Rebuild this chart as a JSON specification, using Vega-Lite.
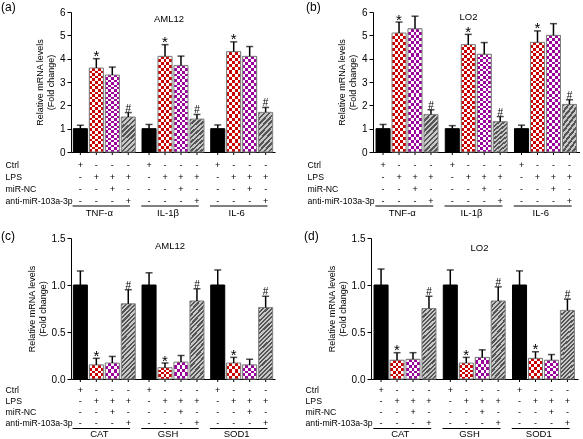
{
"$schema":"https://vega.github.io/schema/vega-lite/v6.json",
"background":"white",
"padding":{"left":1,"top":1,"right":0,"bottom":0},
"spacing":12,
"config":{
 "font":"Liberation Sans",
 "view":{"stroke":null},
 "axis":{"grid":false,"domainColor":"black","tickColor":"black","labelColor":"black","titleColor":"black"}
},
"datasets":{
 "signs":[
  {"t":"Ctrl","Ctrl":"+","LPS":"-","miR-NC":"-","anti-miR-103a-3p":"-"},
  {"t":"LPS","Ctrl":"-","LPS":"+","miR-NC":"-","anti-miR-103a-3p":"-"},
  {"t":"NC","Ctrl":"-","LPS":"+","miR-NC":"+","anti-miR-103a-3p":"-"},
  {"t":"anti","Ctrl":"-","LPS":"+","miR-NC":"-","anti-miR-103a-3p":"+"}
 ],
 "a":[
  {"g":"TNF-α","t":"Ctrl","v":1.0,"hi":1.15,"s":""},
  {"g":"TNF-α","t":"LPS","v":3.6,"hi":4.0,"s":"*"},
  {"g":"TNF-α","t":"NC","v":3.3,"hi":3.64,"s":""},
  {"g":"TNF-α","t":"anti","v":1.5,"hi":1.69,"s":"#"},
  {"g":"IL-1β","t":"Ctrl","v":1.0,"hi":1.18,"s":""},
  {"g":"IL-1β","t":"LPS","v":4.1,"hi":4.6,"s":"*"},
  {"g":"IL-1β","t":"NC","v":3.7,"hi":4.11,"s":""},
  {"g":"IL-1β","t":"anti","v":1.41,"hi":1.61,"s":"#"},
  {"g":"IL-6","t":"Ctrl","v":1.0,"hi":1.16,"s":""},
  {"g":"IL-6","t":"LPS","v":4.3,"hi":4.72,"s":"*"},
  {"g":"IL-6","t":"NC","v":4.1,"hi":4.52,"s":""},
  {"g":"IL-6","t":"anti","v":1.7,"hi":1.91,"s":"#"}
 ],
 "b":[
  {"g":"TNF-α","t":"Ctrl","v":1.0,"hi":1.18,"s":""},
  {"g":"TNF-α","t":"LPS","v":5.1,"hi":5.57,"s":"*"},
  {"g":"TNF-α","t":"NC","v":5.28,"hi":5.82,"s":""},
  {"g":"TNF-α","t":"anti","v":1.61,"hi":1.81,"s":"#"},
  {"g":"IL-1β","t":"Ctrl","v":1.0,"hi":1.13,"s":""},
  {"g":"IL-1β","t":"LPS","v":4.6,"hi":5.04,"s":"*"},
  {"g":"IL-1β","t":"NC","v":4.19,"hi":4.69,"s":""},
  {"g":"IL-1β","t":"anti","v":1.3,"hi":1.52,"s":"#"},
  {"g":"IL-6","t":"Ctrl","v":1.0,"hi":1.15,"s":""},
  {"g":"IL-6","t":"LPS","v":4.7,"hi":5.19,"s":"*"},
  {"g":"IL-6","t":"NC","v":5.0,"hi":5.5,"s":""},
  {"g":"IL-6","t":"anti","v":2.04,"hi":2.24,"s":"#"}
 ],
 "c":[
  {"g":"CAT","t":"Ctrl","v":1.0,"hi":1.15,"s":""},
  {"g":"CAT","t":"LPS","v":0.15,"hi":0.22,"s":"*"},
  {"g":"CAT","t":"NC","v":0.17,"hi":0.24,"s":""},
  {"g":"CAT","t":"anti","v":0.8,"hi":0.95,"s":"#"},
  {"g":"GSH","t":"Ctrl","v":1.0,"hi":1.13,"s":""},
  {"g":"GSH","t":"LPS","v":0.12,"hi":0.17,"s":"*"},
  {"g":"GSH","t":"NC","v":0.18,"hi":0.25,"s":""},
  {"g":"GSH","t":"anti","v":0.83,"hi":0.96,"s":"#"},
  {"g":"SOD1","t":"Ctrl","v":1.0,"hi":1.16,"s":""},
  {"g":"SOD1","t":"LPS","v":0.17,"hi":0.23,"s":"*"},
  {"g":"SOD1","t":"NC","v":0.15,"hi":0.21,"s":""},
  {"g":"SOD1","t":"anti","v":0.76,"hi":0.88,"s":"#"}
 ],
 "d":[
  {"g":"CAT","t":"Ctrl","v":1.0,"hi":1.17,"s":""},
  {"g":"CAT","t":"LPS","v":0.2,"hi":0.28,"s":"*"},
  {"g":"CAT","t":"NC","v":0.21,"hi":0.28,"s":""},
  {"g":"CAT","t":"anti","v":0.75,"hi":0.88,"s":"#"},
  {"g":"GSH","t":"Ctrl","v":1.0,"hi":1.16,"s":""},
  {"g":"GSH","t":"LPS","v":0.17,"hi":0.23,"s":"*"},
  {"g":"GSH","t":"NC","v":0.23,"hi":0.31,"s":""},
  {"g":"GSH","t":"anti","v":0.83,"hi":0.98,"s":"#"},
  {"g":"SOD1","t":"Ctrl","v":1.0,"hi":1.15,"s":""},
  {"g":"SOD1","t":"LPS","v":0.22,"hi":0.29,"s":"*"},
  {"g":"SOD1","t":"NC","v":0.2,"hi":0.26,"s":""},
  {"g":"SOD1","t":"anti","v":0.73,"hi":0.85,"s":"#"}
 ]
},
"vconcat":[
{"hconcat":[
 {
  "title":{"text":"(a)","anchor":"start","frame":"bounds","fontSize":12,"fontWeight":"normal","offset":-7,"dx":-4},
  "spacing":2,
  "vconcat":[
   {
    "width":204,"height":140,
    "title":{"text":"AML12","fontSize":9.5,"fontWeight":"normal","offset":-16,"dx":-4},
    "data":{"name":"a"},
    "encoding":{
     "x":{"field":"g","type":"nominal","sort":["TNF-α","IL-1β","IL-6"],"scale":{"paddingInner":0.07,"paddingOuter":0.02},"axis":{"labels":false,"ticks":false,"title":null}},
     "xOffset":{"field":"t","type":"nominal","sort":["Ctrl","LPS","NC","anti"],"scale":{"paddingInner":0.12,"paddingOuter":0.06}},
     "y":{"field":"v","type":"quantitative","scale":{"domain":[0,6],"nice":false},"axis":{"values":[0,1,2,3,4,5,6],"title":["Relative mRNA levels","(Fold change)"],"titleFontSize":9,"titleFontWeight":"normal","titlePadding":4,"titleLineHeight":11,"tickSize":4,"labelFontSize":10,"labelPadding":2}}
    },
    "layer":[
     {"mark":{"type":"rule","y2Offset":3,"color":"black","strokeWidth":1},"encoding":{"y":{"datum":0,"type":"quantitative"},"y2":{"datum":0}}},
     {"transform":[{"filter":"datum.t=='Ctrl'"}],"mark":{"type":"bar","fill":"black","stroke":"black","strokeWidth":1}},
     {"transform":[{"filter":"datum.t=='LPS'||datum.t=='NC'"}],"mark":{"type":"bar","fill":{"gradient":"linear","x1":0,"y1":0,"x2":1,"y2":0,"stops":[{"offset":0,"color":"#000"},{"offset":0.2,"color":"#000"},{"offset":0.2,"color":"#fff"},{"offset":0.4,"color":"#fff"},{"offset":0.4,"color":"#000"},{"offset":0.6,"color":"#000"},{"offset":0.6,"color":"#fff"},{"offset":0.8,"color":"#fff"},{"offset":0.8,"color":"#000"},{"offset":1,"color":"#000"}]}}},
     {"transform":[{"filter":"datum.t=='LPS'||datum.t=='NC'"}],"mark":{"type":"bar","blend":"difference","fill":{"gradient":"linear","x1":0,"y1":0,"x2":0,"y2":1,"stops":[{"offset":0,"color":"#fff"},{"offset":0.03125,"color":"#fff"},{"offset":0.03125,"color":"#000"},{"offset":0.0625,"color":"#000"},{"offset":0.0625,"color":"#fff"},{"offset":0.09375,"color":"#fff"},{"offset":0.09375,"color":"#000"},{"offset":0.125,"color":"#000"},{"offset":0.125,"color":"#fff"},{"offset":0.15625,"color":"#fff"},{"offset":0.15625,"color":"#000"},{"offset":0.1875,"color":"#000"},{"offset":0.1875,"color":"#fff"},{"offset":0.21875,"color":"#fff"},{"offset":0.21875,"color":"#000"},{"offset":0.25,"color":"#000"},{"offset":0.25,"color":"#fff"},{"offset":0.28125,"color":"#fff"},{"offset":0.28125,"color":"#000"},{"offset":0.3125,"color":"#000"},{"offset":0.3125,"color":"#fff"},{"offset":0.34375,"color":"#fff"},{"offset":0.34375,"color":"#000"},{"offset":0.375,"color":"#000"},{"offset":0.375,"color":"#fff"},{"offset":0.40625,"color":"#fff"},{"offset":0.40625,"color":"#000"},{"offset":0.4375,"color":"#000"},{"offset":0.4375,"color":"#fff"},{"offset":0.46875,"color":"#fff"},{"offset":0.46875,"color":"#000"},{"offset":0.5,"color":"#000"},{"offset":0.5,"color":"#fff"},{"offset":0.53125,"color":"#fff"},{"offset":0.53125,"color":"#000"},{"offset":0.5625,"color":"#000"},{"offset":0.5625,"color":"#fff"},{"offset":0.59375,"color":"#fff"},{"offset":0.59375,"color":"#000"},{"offset":0.625,"color":"#000"},{"offset":0.625,"color":"#fff"},{"offset":0.65625,"color":"#fff"},{"offset":0.65625,"color":"#000"},{"offset":0.6875,"color":"#000"},{"offset":0.6875,"color":"#fff"},{"offset":0.71875,"color":"#fff"},{"offset":0.71875,"color":"#000"},{"offset":0.75,"color":"#000"},{"offset":0.75,"color":"#fff"},{"offset":0.78125,"color":"#fff"},{"offset":0.78125,"color":"#000"},{"offset":0.8125,"color":"#000"},{"offset":0.8125,"color":"#fff"},{"offset":0.84375,"color":"#fff"},{"offset":0.84375,"color":"#000"},{"offset":0.875,"color":"#000"},{"offset":0.875,"color":"#fff"},{"offset":0.90625,"color":"#fff"},{"offset":0.90625,"color":"#000"},{"offset":0.9375,"color":"#000"},{"offset":0.9375,"color":"#fff"},{"offset":0.96875,"color":"#fff"},{"offset":0.96875,"color":"#000"},{"offset":1,"color":"#000"}]}}},
     {"transform":[{"filter":"datum.t=='LPS'||datum.t=='NC'"}],"mark":{"type":"bar","blend":"lighten"},"encoding":{"color":{"field":"t","type":"nominal","scale":{"domain":["LPS","NC"],"range":["#c80000","#9a009a"]},"legend":null}}},
     {"transform":[{"filter":"datum.t=='anti'"}],"mark":{"type":"bar","fill":{"gradient":"linear","x1":0,"y1":0,"x2":0.46,"y2":1.2,"stops":[{"offset":0,"color":"#555"},{"offset":0.05,"color":"#555"},{"offset":0.05,"color":"#c8c8c8"},{"offset":0.1,"color":"#c8c8c8"},{"offset":0.1,"color":"#555"},{"offset":0.15,"color":"#555"},{"offset":0.15,"color":"#c8c8c8"},{"offset":0.2,"color":"#c8c8c8"},{"offset":0.2,"color":"#555"},{"offset":0.25,"color":"#555"},{"offset":0.25,"color":"#c8c8c8"},{"offset":0.3,"color":"#c8c8c8"},{"offset":0.3,"color":"#555"},{"offset":0.35,"color":"#555"},{"offset":0.35,"color":"#c8c8c8"},{"offset":0.4,"color":"#c8c8c8"},{"offset":0.4,"color":"#555"},{"offset":0.45,"color":"#555"},{"offset":0.45,"color":"#c8c8c8"},{"offset":0.5,"color":"#c8c8c8"},{"offset":0.5,"color":"#555"},{"offset":0.55,"color":"#555"},{"offset":0.55,"color":"#c8c8c8"},{"offset":0.6,"color":"#c8c8c8"},{"offset":0.6,"color":"#555"},{"offset":0.65,"color":"#555"},{"offset":0.65,"color":"#c8c8c8"},{"offset":0.7,"color":"#c8c8c8"},{"offset":0.7,"color":"#555"},{"offset":0.75,"color":"#555"},{"offset":0.75,"color":"#c8c8c8"},{"offset":0.8,"color":"#c8c8c8"},{"offset":0.8,"color":"#555"},{"offset":0.85,"color":"#555"},{"offset":0.85,"color":"#c8c8c8"},{"offset":0.9,"color":"#c8c8c8"},{"offset":0.9,"color":"#555"},{"offset":0.95,"color":"#555"},{"offset":0.95,"color":"#c8c8c8"},{"offset":1,"color":"#c8c8c8"}]}}},
     {"transform":[{"filter":"datum.t!='Ctrl'"}],"mark":{"type":"bar","filled":false,"stroke":"#808080","strokeWidth":1}},
     {"mark":{"type":"rule","color":"black","strokeWidth":1.5},"encoding":{"y2":{"field":"hi"}}},
     {"mark":{"type":"tick","color":"black","thickness":1.5,"size":7},"encoding":{"y":{"field":"hi","type":"quantitative"}}},
     {"transform":[{"filter":"datum.s=='*'"}],"mark":{"type":"text","fontSize":15,"baseline":"alphabetic","dy":2.5,"color":"black"},"encoding":{"y":{"field":"hi","type":"quantitative"},"text":{"field":"s"}}},
     {"transform":[{"filter":"datum.s=='#'"}],"mark":{"type":"text","fontSize":10,"baseline":"alphabetic","dy":-1,"color":"black"},"encoding":{"y":{"field":"hi","type":"quantitative"},"text":{"field":"s"}}}
    ]
   },
   {
    "width":204,"height":48,
    "data":{"name":"a"},
    "transform":[{"lookup":"t","from":{"data":{"name":"signs"},"key":"t","fields":["Ctrl","LPS","miR-NC","anti-miR-103a-3p"]}},{"fold":["Ctrl","LPS","miR-NC","anti-miR-103a-3p"],"as":["row","sign"]}],
    "layer":[
     {"mark":{"type":"text","fontSize":9,"color":"black"},"encoding":{
      "x":{"field":"g","type":"nominal","sort":["TNF-α","IL-1β","IL-6"],"scale":{"paddingInner":0.07,"paddingOuter":0.02},"axis":{"title":null,"domain":false,"ticks":false,"labelAngle":0,"labelPadding":0,"labelOffset":-5,"labelFontSize":9.5}},
      "xOffset":{"field":"t","type":"nominal","sort":["Ctrl","LPS","NC","anti"],"scale":{"paddingInner":0.12,"paddingOuter":0.06}},
      "y":{"field":"row","type":"nominal","sort":["Ctrl","LPS","miR-NC","anti-miR-103a-3p"],"scale":{"paddingInner":0,"paddingOuter":0},"axis":{"title":null,"domain":false,"ticks":false,"labelAlign":"left","labelPadding":66,"labelFontSize":8.7}},
      "text":{"field":"sign"}}},
     {"transform":[{"filter":"datum.row=='anti-miR-103a-3p'&&datum.t=='Ctrl'"}],"mark":{"type":"rect","height":1,"yOffset":5,"color":"black","width":{"band":0.9},"xOffset":-3},"encoding":{
      "x":{"field":"g","type":"nominal","sort":["TNF-α","IL-1β","IL-6"]},
      "y":{"field":"row","type":"nominal","sort":["Ctrl","LPS","miR-NC","anti-miR-103a-3p"]}}}
    ]
   }
  ]
 },
 {
  "title":{"text":"(b)","anchor":"start","frame":"bounds","fontSize":12,"fontWeight":"normal","offset":-7,"dx":-1},
  "spacing":2,
  "vconcat":[
   {
    "width":207,"height":140,
    "title":{"text":"LO2","fontSize":9.5,"fontWeight":"normal","offset":-14,"dx":-8},
    "data":{"name":"b"},
    "encoding":{
     "x":{"field":"g","type":"nominal","sort":["TNF-α","IL-1β","IL-6"],"scale":{"paddingInner":0.07,"paddingOuter":0.03},"axis":{"labels":false,"ticks":false,"title":null}},
     "xOffset":{"field":"t","type":"nominal","sort":["Ctrl","LPS","NC","anti"],"scale":{"paddingInner":0.12,"paddingOuter":0.06}},
     "y":{"field":"v","type":"quantitative","scale":{"domain":[0,6],"nice":false},"axis":{"values":[0,1,2,3,4,5,6],"title":["Relative mRNA levels","(Fold change)"],"titleFontSize":9,"titleFontWeight":"normal","titlePadding":4,"titleLineHeight":11,"tickSize":4,"labelFontSize":10,"labelPadding":2}}
    },
    "layer":[
     {"mark":{"type":"rule","y2Offset":3,"color":"black","strokeWidth":1},"encoding":{"y":{"datum":0,"type":"quantitative"},"y2":{"datum":0}}},
     {"transform":[{"filter":"datum.t=='Ctrl'"}],"mark":{"type":"bar","fill":"black","stroke":"black","strokeWidth":1}},
     {"transform":[{"filter":"datum.t=='LPS'||datum.t=='NC'"}],"mark":{"type":"bar","fill":{"gradient":"linear","x1":0,"y1":0,"x2":1,"y2":0,"stops":[{"offset":0,"color":"#000"},{"offset":0.2,"color":"#000"},{"offset":0.2,"color":"#fff"},{"offset":0.4,"color":"#fff"},{"offset":0.4,"color":"#000"},{"offset":0.6,"color":"#000"},{"offset":0.6,"color":"#fff"},{"offset":0.8,"color":"#fff"},{"offset":0.8,"color":"#000"},{"offset":1,"color":"#000"}]}}},
     {"transform":[{"filter":"datum.t=='LPS'||datum.t=='NC'"}],"mark":{"type":"bar","blend":"difference","fill":{"gradient":"linear","x1":0,"y1":0,"x2":0,"y2":1,"stops":[{"offset":0,"color":"#fff"},{"offset":0.025,"color":"#fff"},{"offset":0.025,"color":"#000"},{"offset":0.05,"color":"#000"},{"offset":0.05,"color":"#fff"},{"offset":0.075,"color":"#fff"},{"offset":0.075,"color":"#000"},{"offset":0.1,"color":"#000"},{"offset":0.1,"color":"#fff"},{"offset":0.125,"color":"#fff"},{"offset":0.125,"color":"#000"},{"offset":0.15,"color":"#000"},{"offset":0.15,"color":"#fff"},{"offset":0.175,"color":"#fff"},{"offset":0.175,"color":"#000"},{"offset":0.2,"color":"#000"},{"offset":0.2,"color":"#fff"},{"offset":0.225,"color":"#fff"},{"offset":0.225,"color":"#000"},{"offset":0.25,"color":"#000"},{"offset":0.25,"color":"#fff"},{"offset":0.275,"color":"#fff"},{"offset":0.275,"color":"#000"},{"offset":0.3,"color":"#000"},{"offset":0.3,"color":"#fff"},{"offset":0.325,"color":"#fff"},{"offset":0.325,"color":"#000"},{"offset":0.35,"color":"#000"},{"offset":0.35,"color":"#fff"},{"offset":0.375,"color":"#fff"},{"offset":0.375,"color":"#000"},{"offset":0.4,"color":"#000"},{"offset":0.4,"color":"#fff"},{"offset":0.425,"color":"#fff"},{"offset":0.425,"color":"#000"},{"offset":0.45,"color":"#000"},{"offset":0.45,"color":"#fff"},{"offset":0.475,"color":"#fff"},{"offset":0.475,"color":"#000"},{"offset":0.5,"color":"#000"},{"offset":0.5,"color":"#fff"},{"offset":0.525,"color":"#fff"},{"offset":0.525,"color":"#000"},{"offset":0.55,"color":"#000"},{"offset":0.55,"color":"#fff"},{"offset":0.575,"color":"#fff"},{"offset":0.575,"color":"#000"},{"offset":0.6,"color":"#000"},{"offset":0.6,"color":"#fff"},{"offset":0.625,"color":"#fff"},{"offset":0.625,"color":"#000"},{"offset":0.65,"color":"#000"},{"offset":0.65,"color":"#fff"},{"offset":0.675,"color":"#fff"},{"offset":0.675,"color":"#000"},{"offset":0.7,"color":"#000"},{"offset":0.7,"color":"#fff"},{"offset":0.725,"color":"#fff"},{"offset":0.725,"color":"#000"},{"offset":0.75,"color":"#000"},{"offset":0.75,"color":"#fff"},{"offset":0.775,"color":"#fff"},{"offset":0.775,"color":"#000"},{"offset":0.8,"color":"#000"},{"offset":0.8,"color":"#fff"},{"offset":0.825,"color":"#fff"},{"offset":0.825,"color":"#000"},{"offset":0.85,"color":"#000"},{"offset":0.85,"color":"#fff"},{"offset":0.875,"color":"#fff"},{"offset":0.875,"color":"#000"},{"offset":0.9,"color":"#000"},{"offset":0.9,"color":"#fff"},{"offset":0.925,"color":"#fff"},{"offset":0.925,"color":"#000"},{"offset":0.95,"color":"#000"},{"offset":0.95,"color":"#fff"},{"offset":0.975,"color":"#fff"},{"offset":0.975,"color":"#000"},{"offset":1,"color":"#000"}]}}},
     {"transform":[{"filter":"datum.t=='LPS'||datum.t=='NC'"}],"mark":{"type":"bar","blend":"lighten"},"encoding":{"color":{"field":"t","type":"nominal","scale":{"domain":["LPS","NC"],"range":["#c80000","#9a009a"]},"legend":null}}},
     {"transform":[{"filter":"datum.t=='anti'"}],"mark":{"type":"bar","fill":{"gradient":"linear","x1":0,"y1":0,"x2":0.46,"y2":1.2,"stops":[{"offset":0,"color":"#555"},{"offset":0.05,"color":"#555"},{"offset":0.05,"color":"#c8c8c8"},{"offset":0.1,"color":"#c8c8c8"},{"offset":0.1,"color":"#555"},{"offset":0.15,"color":"#555"},{"offset":0.15,"color":"#c8c8c8"},{"offset":0.2,"color":"#c8c8c8"},{"offset":0.2,"color":"#555"},{"offset":0.25,"color":"#555"},{"offset":0.25,"color":"#c8c8c8"},{"offset":0.3,"color":"#c8c8c8"},{"offset":0.3,"color":"#555"},{"offset":0.35,"color":"#555"},{"offset":0.35,"color":"#c8c8c8"},{"offset":0.4,"color":"#c8c8c8"},{"offset":0.4,"color":"#555"},{"offset":0.45,"color":"#555"},{"offset":0.45,"color":"#c8c8c8"},{"offset":0.5,"color":"#c8c8c8"},{"offset":0.5,"color":"#555"},{"offset":0.55,"color":"#555"},{"offset":0.55,"color":"#c8c8c8"},{"offset":0.6,"color":"#c8c8c8"},{"offset":0.6,"color":"#555"},{"offset":0.65,"color":"#555"},{"offset":0.65,"color":"#c8c8c8"},{"offset":0.7,"color":"#c8c8c8"},{"offset":0.7,"color":"#555"},{"offset":0.75,"color":"#555"},{"offset":0.75,"color":"#c8c8c8"},{"offset":0.8,"color":"#c8c8c8"},{"offset":0.8,"color":"#555"},{"offset":0.85,"color":"#555"},{"offset":0.85,"color":"#c8c8c8"},{"offset":0.9,"color":"#c8c8c8"},{"offset":0.9,"color":"#555"},{"offset":0.95,"color":"#555"},{"offset":0.95,"color":"#c8c8c8"},{"offset":1,"color":"#c8c8c8"}]}}},
     {"transform":[{"filter":"datum.t!='Ctrl'"}],"mark":{"type":"bar","filled":false,"stroke":"#808080","strokeWidth":1}},
     {"mark":{"type":"rule","color":"black","strokeWidth":1.5},"encoding":{"y2":{"field":"hi"}}},
     {"mark":{"type":"tick","color":"black","thickness":1.5,"size":7},"encoding":{"y":{"field":"hi","type":"quantitative"}}},
     {"transform":[{"filter":"datum.s=='*'"}],"mark":{"type":"text","fontSize":15,"baseline":"alphabetic","dy":2.5,"color":"black"},"encoding":{"y":{"field":"hi","type":"quantitative"},"text":{"field":"s"}}},
     {"transform":[{"filter":"datum.s=='#'"}],"mark":{"type":"text","fontSize":10,"baseline":"alphabetic","dy":-1,"color":"black"},"encoding":{"y":{"field":"hi","type":"quantitative"},"text":{"field":"s"}}}
    ]
   },
   {
    "width":207,"height":48,
    "data":{"name":"b"},
    "transform":[{"lookup":"t","from":{"data":{"name":"signs"},"key":"t","fields":["Ctrl","LPS","miR-NC","anti-miR-103a-3p"]}},{"fold":["Ctrl","LPS","miR-NC","anti-miR-103a-3p"],"as":["row","sign"]}],
    "layer":[
     {"mark":{"type":"text","fontSize":9,"color":"black"},"encoding":{
      "x":{"field":"g","type":"nominal","sort":["TNF-α","IL-1β","IL-6"],"scale":{"paddingInner":0.07,"paddingOuter":0.03},"axis":{"title":null,"domain":false,"ticks":false,"labelAngle":0,"labelPadding":0,"labelOffset":-5,"labelFontSize":9.5}},
      "xOffset":{"field":"t","type":"nominal","sort":["Ctrl","LPS","NC","anti"],"scale":{"paddingInner":0.12,"paddingOuter":0.06}},
      "y":{"field":"row","type":"nominal","sort":["Ctrl","LPS","miR-NC","anti-miR-103a-3p"],"scale":{"paddingInner":0,"paddingOuter":0},"axis":{"title":null,"domain":false,"ticks":false,"labelAlign":"left","labelPadding":66,"labelFontSize":8.7}},
      "text":{"field":"sign"}}},
     {"transform":[{"filter":"datum.row=='anti-miR-103a-3p'&&datum.t=='Ctrl'"}],"mark":{"type":"rect","height":1,"yOffset":5,"color":"black","width":{"band":0.9},"xOffset":-3},"encoding":{
      "x":{"field":"g","type":"nominal","sort":["TNF-α","IL-1β","IL-6"]},
      "y":{"field":"row","type":"nominal","sort":["Ctrl","LPS","miR-NC","anti-miR-103a-3p"]}}}
    ]
   }
  ]
 }
],"spacing":31},
{"hconcat":[
 {
  "title":{"text":"(c)","anchor":"start","frame":"bounds","fontSize":12,"fontWeight":"normal","offset":-9.5,"dx":-4},
  "spacing":0,
  "vconcat":[
   {
    "width":204,"height":141,
    "title":{"text":"AML12","fontSize":9.5,"fontWeight":"normal","offset":-17,"dx":-3},
    "data":{"name":"c"},
    "encoding":{
     "x":{"field":"g","type":"nominal","sort":["CAT","GSH","SOD1"],"scale":{"paddingInner":0.07,"paddingOuter":0.02},"axis":{"labels":false,"ticks":false,"title":null}},
     "xOffset":{"field":"t","type":"nominal","sort":["Ctrl","LPS","NC","anti"],"scale":{"paddingInner":0.12,"paddingOuter":0.06}},
     "y":{"field":"v","type":"quantitative","scale":{"domain":[0,1.5],"nice":false},"axis":{"values":[0,0.5,1,1.5],"format":".1f","title":["Relative mRNA levels","(Fold change)"],"titleFontSize":9,"titleFontWeight":"normal","titlePadding":4,"titleLineHeight":11,"tickSize":4,"labelFontSize":10,"labelPadding":2}}
    },
    "layer":[
     {"mark":{"type":"rule","y2Offset":3,"color":"black","strokeWidth":1},"encoding":{"y":{"datum":0,"type":"quantitative"},"y2":{"datum":0}}},
     {"transform":[{"filter":"datum.t=='Ctrl'"}],"mark":{"type":"bar","fill":"black","stroke":"black","strokeWidth":1}},
     {"transform":[{"filter":"datum.t=='LPS'||datum.t=='NC'"}],"mark":{"type":"bar","fill":{"gradient":"linear","x1":0,"y1":0,"x2":1,"y2":0,"stops":[{"offset":0,"color":"#000"},{"offset":0.2,"color":"#000"},{"offset":0.2,"color":"#fff"},{"offset":0.4,"color":"#fff"},{"offset":0.4,"color":"#000"},{"offset":0.6,"color":"#000"},{"offset":0.6,"color":"#fff"},{"offset":0.8,"color":"#fff"},{"offset":0.8,"color":"#000"},{"offset":1,"color":"#000"}]}}},
     {"transform":[{"filter":"datum.t=='LPS'||datum.t=='NC'"}],"mark":{"type":"bar","blend":"difference","fill":{"gradient":"linear","x1":0,"y1":0,"x2":0,"y2":1,"stops":[{"offset":0,"color":"#fff"},{"offset":0.2,"color":"#fff"},{"offset":0.2,"color":"#000"},{"offset":0.4,"color":"#000"},{"offset":0.4,"color":"#fff"},{"offset":0.6,"color":"#fff"},{"offset":0.6,"color":"#000"},{"offset":0.8,"color":"#000"},{"offset":0.8,"color":"#fff"},{"offset":1,"color":"#fff"}]}}},
     {"transform":[{"filter":"datum.t=='LPS'||datum.t=='NC'"}],"mark":{"type":"bar","blend":"lighten"},"encoding":{"color":{"field":"t","type":"nominal","scale":{"domain":["LPS","NC"],"range":["#c80000","#9a009a"]},"legend":null}}},
     {"transform":[{"filter":"datum.t=='anti'"}],"mark":{"type":"bar","fill":{"gradient":"linear","x1":0,"y1":0,"x2":0.22,"y2":1.15,"stops":[{"offset":0,"color":"#555"},{"offset":0.025,"color":"#555"},{"offset":0.025,"color":"#c8c8c8"},{"offset":0.05,"color":"#c8c8c8"},{"offset":0.05,"color":"#555"},{"offset":0.075,"color":"#555"},{"offset":0.075,"color":"#c8c8c8"},{"offset":0.1,"color":"#c8c8c8"},{"offset":0.1,"color":"#555"},{"offset":0.125,"color":"#555"},{"offset":0.125,"color":"#c8c8c8"},{"offset":0.15,"color":"#c8c8c8"},{"offset":0.15,"color":"#555"},{"offset":0.175,"color":"#555"},{"offset":0.175,"color":"#c8c8c8"},{"offset":0.2,"color":"#c8c8c8"},{"offset":0.2,"color":"#555"},{"offset":0.225,"color":"#555"},{"offset":0.225,"color":"#c8c8c8"},{"offset":0.25,"color":"#c8c8c8"},{"offset":0.25,"color":"#555"},{"offset":0.275,"color":"#555"},{"offset":0.275,"color":"#c8c8c8"},{"offset":0.3,"color":"#c8c8c8"},{"offset":0.3,"color":"#555"},{"offset":0.325,"color":"#555"},{"offset":0.325,"color":"#c8c8c8"},{"offset":0.35,"color":"#c8c8c8"},{"offset":0.35,"color":"#555"},{"offset":0.375,"color":"#555"},{"offset":0.375,"color":"#c8c8c8"},{"offset":0.4,"color":"#c8c8c8"},{"offset":0.4,"color":"#555"},{"offset":0.425,"color":"#555"},{"offset":0.425,"color":"#c8c8c8"},{"offset":0.45,"color":"#c8c8c8"},{"offset":0.45,"color":"#555"},{"offset":0.475,"color":"#555"},{"offset":0.475,"color":"#c8c8c8"},{"offset":0.5,"color":"#c8c8c8"},{"offset":0.5,"color":"#555"},{"offset":0.525,"color":"#555"},{"offset":0.525,"color":"#c8c8c8"},{"offset":0.55,"color":"#c8c8c8"},{"offset":0.55,"color":"#555"},{"offset":0.575,"color":"#555"},{"offset":0.575,"color":"#c8c8c8"},{"offset":0.6,"color":"#c8c8c8"},{"offset":0.6,"color":"#555"},{"offset":0.625,"color":"#555"},{"offset":0.625,"color":"#c8c8c8"},{"offset":0.65,"color":"#c8c8c8"},{"offset":0.65,"color":"#555"},{"offset":0.675,"color":"#555"},{"offset":0.675,"color":"#c8c8c8"},{"offset":0.7,"color":"#c8c8c8"},{"offset":0.7,"color":"#555"},{"offset":0.725,"color":"#555"},{"offset":0.725,"color":"#c8c8c8"},{"offset":0.75,"color":"#c8c8c8"},{"offset":0.75,"color":"#555"},{"offset":0.775,"color":"#555"},{"offset":0.775,"color":"#c8c8c8"},{"offset":0.8,"color":"#c8c8c8"},{"offset":0.8,"color":"#555"},{"offset":0.825,"color":"#555"},{"offset":0.825,"color":"#c8c8c8"},{"offset":0.85,"color":"#c8c8c8"},{"offset":0.85,"color":"#555"},{"offset":0.875,"color":"#555"},{"offset":0.875,"color":"#c8c8c8"},{"offset":0.9,"color":"#c8c8c8"},{"offset":0.9,"color":"#555"},{"offset":0.925,"color":"#555"},{"offset":0.925,"color":"#c8c8c8"},{"offset":0.95,"color":"#c8c8c8"},{"offset":0.95,"color":"#555"},{"offset":0.975,"color":"#555"},{"offset":0.975,"color":"#c8c8c8"},{"offset":1,"color":"#c8c8c8"}]}}},
     {"transform":[{"filter":"datum.t!='Ctrl'"}],"mark":{"type":"bar","filled":false,"stroke":"#808080","strokeWidth":1}},
     {"mark":{"type":"rule","color":"black","strokeWidth":1.5},"encoding":{"y2":{"field":"hi"}}},
     {"mark":{"type":"tick","color":"black","thickness":1.5,"size":7},"encoding":{"y":{"field":"hi","type":"quantitative"}}},
     {"transform":[{"filter":"datum.s=='*'"}],"mark":{"type":"text","fontSize":15,"baseline":"alphabetic","dy":2.5,"color":"black"},"encoding":{"y":{"field":"hi","type":"quantitative"},"text":{"field":"s"}}},
     {"transform":[{"filter":"datum.s=='#'"}],"mark":{"type":"text","fontSize":10,"baseline":"alphabetic","dy":-1,"color":"black"},"encoding":{"y":{"field":"hi","type":"quantitative"},"text":{"field":"s"}}}
    ]
   },
   {
    "width":204,"height":45,
    "data":{"name":"c"},
    "transform":[{"lookup":"t","from":{"data":{"name":"signs"},"key":"t","fields":["Ctrl","LPS","miR-NC","anti-miR-103a-3p"]}},{"fold":["Ctrl","LPS","miR-NC","anti-miR-103a-3p"],"as":["row","sign"]}],
    "layer":[
     {"mark":{"type":"text","fontSize":9,"color":"black"},"encoding":{
      "x":{"field":"g","type":"nominal","sort":["CAT","GSH","SOD1"],"scale":{"paddingInner":0.07,"paddingOuter":0.02},"axis":{"title":null,"domain":false,"ticks":false,"labelAngle":0,"labelPadding":-1,"labelOffset":-5,"labelFontSize":9.5}},
      "xOffset":{"field":"t","type":"nominal","sort":["Ctrl","LPS","NC","anti"],"scale":{"paddingInner":0.12,"paddingOuter":0.06}},
      "y":{"field":"row","type":"nominal","sort":["Ctrl","LPS","miR-NC","anti-miR-103a-3p"],"scale":{"paddingInner":0,"paddingOuter":0},"axis":{"title":null,"domain":false,"ticks":false,"labelAlign":"left","labelPadding":66,"labelFontSize":8.7}},
      "text":{"field":"sign"}}},
     {"transform":[{"filter":"datum.row=='anti-miR-103a-3p'&&datum.t=='Ctrl'"}],"mark":{"type":"rect","height":1,"yOffset":5,"color":"black","width":{"band":0.9},"xOffset":-3},"encoding":{
      "x":{"field":"g","type":"nominal","sort":["CAT","GSH","SOD1"]},
      "y":{"field":"row","type":"nominal","sort":["Ctrl","LPS","miR-NC","anti-miR-103a-3p"]}}}
    ]
   }
  ]
 },
 {
  "title":{"text":"(d)","anchor":"start","frame":"bounds","fontSize":12,"fontWeight":"normal","offset":-9.5,"dx":-1},
  "spacing":0,
  "vconcat":[
   {
    "width":207,"height":141,
    "title":{"text":"LO2","fontSize":9.5,"fontWeight":"normal","offset":-19,"dx":5},
    "data":{"name":"d"},
    "encoding":{
     "x":{"field":"g","type":"nominal","sort":["CAT","GSH","SOD1"],"scale":{"paddingInner":0.07,"paddingOuter":0.03},"axis":{"labels":false,"ticks":false,"title":null}},
     "xOffset":{"field":"t","type":"nominal","sort":["Ctrl","LPS","NC","anti"],"scale":{"paddingInner":0.12,"paddingOuter":0.06}},
     "y":{"field":"v","type":"quantitative","scale":{"domain":[0,1.5],"nice":false},"axis":{"values":[0,0.5,1,1.5],"format":".1f","title":["Relative mRNA levels","(Fold change)"],"titleFontSize":9,"titleFontWeight":"normal","titlePadding":4,"titleLineHeight":11,"tickSize":4,"labelFontSize":10,"labelPadding":2}}
    },
    "layer":[
     {"mark":{"type":"rule","y2Offset":3,"color":"black","strokeWidth":1},"encoding":{"y":{"datum":0,"type":"quantitative"},"y2":{"datum":0}}},
     {"transform":[{"filter":"datum.t=='Ctrl'"}],"mark":{"type":"bar","fill":"black","stroke":"black","strokeWidth":1}},
     {"transform":[{"filter":"datum.t=='LPS'||datum.t=='NC'"}],"mark":{"type":"bar","fill":{"gradient":"linear","x1":0,"y1":0,"x2":1,"y2":0,"stops":[{"offset":0,"color":"#000"},{"offset":0.2,"color":"#000"},{"offset":0.2,"color":"#fff"},{"offset":0.4,"color":"#fff"},{"offset":0.4,"color":"#000"},{"offset":0.6,"color":"#000"},{"offset":0.6,"color":"#fff"},{"offset":0.8,"color":"#fff"},{"offset":0.8,"color":"#000"},{"offset":1,"color":"#000"}]}}},
     {"transform":[{"filter":"datum.t=='LPS'||datum.t=='NC'"}],"mark":{"type":"bar","blend":"difference","fill":{"gradient":"linear","x1":0,"y1":0,"x2":0,"y2":1,"stops":[{"offset":0,"color":"#fff"},{"offset":0.142857,"color":"#fff"},{"offset":0.142857,"color":"#000"},{"offset":0.285714,"color":"#000"},{"offset":0.285714,"color":"#fff"},{"offset":0.428571,"color":"#fff"},{"offset":0.428571,"color":"#000"},{"offset":0.571429,"color":"#000"},{"offset":0.571429,"color":"#fff"},{"offset":0.714286,"color":"#fff"},{"offset":0.714286,"color":"#000"},{"offset":0.857143,"color":"#000"},{"offset":0.857143,"color":"#fff"},{"offset":1,"color":"#fff"}]}}},
     {"transform":[{"filter":"datum.t=='LPS'||datum.t=='NC'"}],"mark":{"type":"bar","blend":"lighten"},"encoding":{"color":{"field":"t","type":"nominal","scale":{"domain":["LPS","NC"],"range":["#c80000","#9a009a"]},"legend":null}}},
     {"transform":[{"filter":"datum.t=='anti'"}],"mark":{"type":"bar","fill":{"gradient":"linear","x1":0,"y1":0,"x2":0.22,"y2":1.15,"stops":[{"offset":0,"color":"#555"},{"offset":0.025,"color":"#555"},{"offset":0.025,"color":"#c8c8c8"},{"offset":0.05,"color":"#c8c8c8"},{"offset":0.05,"color":"#555"},{"offset":0.075,"color":"#555"},{"offset":0.075,"color":"#c8c8c8"},{"offset":0.1,"color":"#c8c8c8"},{"offset":0.1,"color":"#555"},{"offset":0.125,"color":"#555"},{"offset":0.125,"color":"#c8c8c8"},{"offset":0.15,"color":"#c8c8c8"},{"offset":0.15,"color":"#555"},{"offset":0.175,"color":"#555"},{"offset":0.175,"color":"#c8c8c8"},{"offset":0.2,"color":"#c8c8c8"},{"offset":0.2,"color":"#555"},{"offset":0.225,"color":"#555"},{"offset":0.225,"color":"#c8c8c8"},{"offset":0.25,"color":"#c8c8c8"},{"offset":0.25,"color":"#555"},{"offset":0.275,"color":"#555"},{"offset":0.275,"color":"#c8c8c8"},{"offset":0.3,"color":"#c8c8c8"},{"offset":0.3,"color":"#555"},{"offset":0.325,"color":"#555"},{"offset":0.325,"color":"#c8c8c8"},{"offset":0.35,"color":"#c8c8c8"},{"offset":0.35,"color":"#555"},{"offset":0.375,"color":"#555"},{"offset":0.375,"color":"#c8c8c8"},{"offset":0.4,"color":"#c8c8c8"},{"offset":0.4,"color":"#555"},{"offset":0.425,"color":"#555"},{"offset":0.425,"color":"#c8c8c8"},{"offset":0.45,"color":"#c8c8c8"},{"offset":0.45,"color":"#555"},{"offset":0.475,"color":"#555"},{"offset":0.475,"color":"#c8c8c8"},{"offset":0.5,"color":"#c8c8c8"},{"offset":0.5,"color":"#555"},{"offset":0.525,"color":"#555"},{"offset":0.525,"color":"#c8c8c8"},{"offset":0.55,"color":"#c8c8c8"},{"offset":0.55,"color":"#555"},{"offset":0.575,"color":"#555"},{"offset":0.575,"color":"#c8c8c8"},{"offset":0.6,"color":"#c8c8c8"},{"offset":0.6,"color":"#555"},{"offset":0.625,"color":"#555"},{"offset":0.625,"color":"#c8c8c8"},{"offset":0.65,"color":"#c8c8c8"},{"offset":0.65,"color":"#555"},{"offset":0.675,"color":"#555"},{"offset":0.675,"color":"#c8c8c8"},{"offset":0.7,"color":"#c8c8c8"},{"offset":0.7,"color":"#555"},{"offset":0.725,"color":"#555"},{"offset":0.725,"color":"#c8c8c8"},{"offset":0.75,"color":"#c8c8c8"},{"offset":0.75,"color":"#555"},{"offset":0.775,"color":"#555"},{"offset":0.775,"color":"#c8c8c8"},{"offset":0.8,"color":"#c8c8c8"},{"offset":0.8,"color":"#555"},{"offset":0.825,"color":"#555"},{"offset":0.825,"color":"#c8c8c8"},{"offset":0.85,"color":"#c8c8c8"},{"offset":0.85,"color":"#555"},{"offset":0.875,"color":"#555"},{"offset":0.875,"color":"#c8c8c8"},{"offset":0.9,"color":"#c8c8c8"},{"offset":0.9,"color":"#555"},{"offset":0.925,"color":"#555"},{"offset":0.925,"color":"#c8c8c8"},{"offset":0.95,"color":"#c8c8c8"},{"offset":0.95,"color":"#555"},{"offset":0.975,"color":"#555"},{"offset":0.975,"color":"#c8c8c8"},{"offset":1,"color":"#c8c8c8"}]}}},
     {"transform":[{"filter":"datum.t!='Ctrl'"}],"mark":{"type":"bar","filled":false,"stroke":"#808080","strokeWidth":1}},
     {"mark":{"type":"rule","color":"black","strokeWidth":1.5},"encoding":{"y2":{"field":"hi"}}},
     {"mark":{"type":"tick","color":"black","thickness":1.5,"size":7},"encoding":{"y":{"field":"hi","type":"quantitative"}}},
     {"transform":[{"filter":"datum.s=='*'"}],"mark":{"type":"text","fontSize":15,"baseline":"alphabetic","dy":2.5,"color":"black"},"encoding":{"y":{"field":"hi","type":"quantitative"},"text":{"field":"s"}}},
     {"transform":[{"filter":"datum.s=='#'"}],"mark":{"type":"text","fontSize":10,"baseline":"alphabetic","dy":-1,"color":"black"},"encoding":{"y":{"field":"hi","type":"quantitative"},"text":{"field":"s"}}}
    ]
   },
   {
    "width":207,"height":45,
    "data":{"name":"d"},
    "transform":[{"lookup":"t","from":{"data":{"name":"signs"},"key":"t","fields":["Ctrl","LPS","miR-NC","anti-miR-103a-3p"]}},{"fold":["Ctrl","LPS","miR-NC","anti-miR-103a-3p"],"as":["row","sign"]}],
    "layer":[
     {"mark":{"type":"text","fontSize":9,"color":"black"},"encoding":{
      "x":{"field":"g","type":"nominal","sort":["CAT","GSH","SOD1"],"scale":{"paddingInner":0.07,"paddingOuter":0.03},"axis":{"title":null,"domain":false,"ticks":false,"labelAngle":0,"labelPadding":-1,"labelOffset":-5,"labelFontSize":9.5}},
      "xOffset":{"field":"t","type":"nominal","sort":["Ctrl","LPS","NC","anti"],"scale":{"paddingInner":0.12,"paddingOuter":0.06}},
      "y":{"field":"row","type":"nominal","sort":["Ctrl","LPS","miR-NC","anti-miR-103a-3p"],"scale":{"paddingInner":0,"paddingOuter":0},"axis":{"title":null,"domain":false,"ticks":false,"labelAlign":"left","labelPadding":66,"labelFontSize":8.7}},
      "text":{"field":"sign"}}},
     {"transform":[{"filter":"datum.row=='anti-miR-103a-3p'&&datum.t=='Ctrl'"}],"mark":{"type":"rect","height":1,"yOffset":5,"color":"black","width":{"band":0.9},"xOffset":-3},"encoding":{
      "x":{"field":"g","type":"nominal","sort":["CAT","GSH","SOD1"]},
      "y":{"field":"row","type":"nominal","sort":["Ctrl","LPS","miR-NC","anti-miR-103a-3p"]}}}
    ]
   }
  ]
 }
],"spacing":29}
]
}
